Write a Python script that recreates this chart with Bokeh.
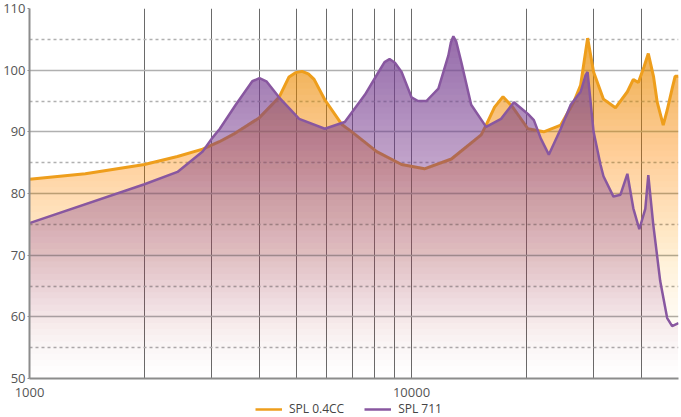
import numpy as np
from bokeh.plotting import figure
from bokeh.layouts import column
from bokeh.models import (FixedTicker, PrintfTickFormatter, Legend, LegendItem,
                          Range1d, ColumnDataSource)
from bokeh.embed import file_html
from bokeh.resources import INLINE

# ---- data ----
freq_04cc = [1000, 1400, 2000, 2440, 2840, 3140, 3460, 4000, 4500, 4780, 4970,
             5170, 5370, 5560, 5930, 6570, 6980, 8110, 9420, 10810, 12720,
             15220, 15680, 16500, 17360, 18300, 20170, 22200, 24590, 26580,
             27720, 28910, 29970, 31810, 34190, 36740, 38080, 39250, 40600,
             41680, 43000, 43980, 45600, 46700, 48120, 48990, 50000]
spl_04cc = [82.3, 83.2, 84.7, 86.0, 87.2, 88.4, 89.8, 92.3, 95.6, 98.9, 99.6,
            99.8, 99.4, 98.5, 95.2, 91.2, 90.0, 86.8, 84.7, 84.0, 85.6,
            89.5, 91.1, 94.0, 95.7, 94.2, 90.5, 90.0, 91.1, 94.8,
            97.6, 105.2, 99.7, 95.3, 93.9, 96.5, 98.5, 98.0, 100.5,
            102.7, 99.0, 94.8, 91.1, 93.5, 97.0, 99.0, 99.0]

freq_711 = [1000, 2000, 2440, 2840, 3000, 3150, 3460, 3830, 4000, 4170, 4500,
            5080, 5930, 6690, 7550, 8200, 8500, 8760, 9050, 9420, 10000, 10400,
            10940, 11760, 12490, 12680, 12870, 13100, 13500, 14330, 15680,
            17160, 18540, 20170, 20910, 21810, 22880, 24590, 26110, 27720,
            28560, 28910, 29970, 31240, 31810, 33780, 35240, 36740, 38080,
            39480, 40930, 41680, 42940, 44780, 46700, 48120, 50000]
spl_711 = [75.2, 81.5, 83.5, 86.8, 88.9, 90.5, 94.3, 98.2, 98.7, 98.2, 95.6,
           92.1, 90.5, 91.6, 96.0, 99.7, 101.3, 101.8, 101.2, 99.7, 95.6, 95.0,
           95.0, 97.0, 102.4, 104.5, 105.5, 104.6, 101.3, 94.4, 90.8,
           92.1, 94.8, 92.9, 91.9, 88.9, 86.3, 90.5, 94.4, 96.5,
           99.2, 99.7, 90.0, 84.7, 82.8, 79.5, 79.8, 83.2, 77.6,
           74.2, 77.5, 83.0, 75.0, 65.8, 59.8, 58.5, 59.0]

y_ticks = [50, 60, 70, 80, 90, 100, 110]
y_minor = [55, 65, 75, 85, 95, 105]
x_ticks = [1000, 10000]
x_minor = [2000, 3000, 4000, 5000, 6000, 7000, 8000, 9000,
           20000, 30000, 40000]

labels = ["SPL 0.4CC", "SPL 711"]
ORANGE = "#EE9E1C"
PURPLE = "#8857A0"
FONT = "Open Sans"

p = figure(width=681, height=399, x_axis_type="log",
           x_range=Range1d(1000, 50000), y_range=Range1d(50, 110),
           output_backend="svg", toolbar_location=None,
           min_border_right=3, min_border_top=8, min_border_bottom=21,
           min_border_left=0)
p.outline_line_color = None
p.background_fill_color = "white"

# axes
p.yaxis.ticker = FixedTicker(ticks=y_ticks, minor_ticks=y_minor)
p.xaxis.ticker = FixedTicker(ticks=x_ticks, minor_ticks=x_minor)
p.xaxis.formatter = PrintfTickFormatter(format="%d")
for ax in (p.xaxis, p.yaxis):
    ax.axis_line_color = "#8c8c8c"
    ax.axis_line_width = 2
    ax.minor_tick_line_color = None
    ax.major_label_text_font = FONT
    ax.major_label_text_font_size = "13px"
    ax.major_label_text_color = "#555555"
p.yaxis.major_tick_line_color = "#8c8c8c"
p.yaxis.major_tick_out = 2
p.yaxis.major_tick_in = 0
p.yaxis.major_label_standoff = 0
p.xaxis.major_tick_line_color = None
p.xaxis.major_label_standoff = 3

# grids
p.xgrid.grid_line_color = "#6a6a6a"
p.xgrid.grid_line_width = 1
p.xgrid.minor_grid_line_color = "#6a6a6a"
p.xgrid.minor_grid_line_width = 1
p.ygrid.grid_line_color = "#b0b0b0"
p.ygrid.grid_line_width = 1.6
p.ygrid.minor_grid_line_color = "#b0b0b0"
p.ygrid.minor_grid_line_width = 1.3
p.ygrid.minor_grid_line_dash = "3 3"


def clip_above(xs, ys, t):
    """Polygon top edge of the part of the area that lies above level t."""
    lx = np.log10(np.asarray(xs, float))
    ys = np.asarray(ys, float)
    ox, oy = [], []
    for i in range(len(xs)):
        if i > 0:
            y0, y1 = ys[i - 1], ys[i]
            if (y0 - t) * (y1 - t) < 0:
                s = (t - y0) / (y1 - y0)
                ox.append(float(10 ** (lx[i - 1] + s * (lx[i] - lx[i - 1]))))
                oy.append(float(t))
        ox.append(float(xs[i]))
        oy.append(float(max(ys[i], t)))
    return ox, oy


def gradient_area(fig, xs, ys, color, prof, step=1.0):
    levels = np.arange(50, max(ys), step)
    prev = 0.0
    for t in levels:
        target = prof(t + step / 2)
        a = 1 - (1 - target) / (1 - prev)
        prev = target
        if a <= 0.0005:
            continue
        ox, oy = clip_above(xs, ys, float(t))
        src = ColumnDataSource(dict(x=ox, y1=[float(t)] * len(ox), y2=oy))
        fig.varea(x="x", y1="y1", y2="y2", source=src, fill_color=color,
                  fill_alpha=float(a))


def prof_orange(y):
    return 0.85 * min(max((y - 50) / 58, 0), 1) ** 1.6


def prof_purple(y):
    return 0.80 * min(max((y - 50) / 55, 0), 1) ** 1.15


gradient_area(p, freq_04cc, spl_04cc, ORANGE, prof_orange)
p.line(freq_04cc, spl_04cc, line_color=ORANGE, line_width=3)
gradient_area(p, freq_711, spl_711, PURPLE, prof_purple)
p.line(freq_711, spl_711, line_color=PURPLE, line_width=2.5)

# legend strip below the chart (series drawn out of view, only keys show)
lg = figure(width=681, height=18, output_backend="svg", toolbar_location=None,
            x_axis_location=None, y_axis_location=None,
            x_range=Range1d(0, 1), y_range=Range1d(0, 1), min_border=0)
lg.outline_line_color = None
lg.grid.visible = False
r1 = lg.line(freq_04cc, spl_04cc, line_color=ORANGE, line_width=2.5)
r2 = lg.line(freq_711, spl_711, line_color=PURPLE, line_width=2.5)
legend = Legend(items=[LegendItem(label=labels[0], renderers=[r1]),
                       LegendItem(label=labels[1], renderers=[r2])],
                orientation="horizontal", location=(226, 0),
                border_line_color=None, background_fill_alpha=0,
                label_text_font=FONT, label_text_font_size="12px",
                label_text_color="#444444", glyph_width=27, glyph_height=14,
                label_height=14, label_standoff=7, spacing=20, padding=0,
                margin=0)
lg.add_layout(legend)

open("out.html", "w").write(file_html(column(p, lg, spacing=0), INLINE))
